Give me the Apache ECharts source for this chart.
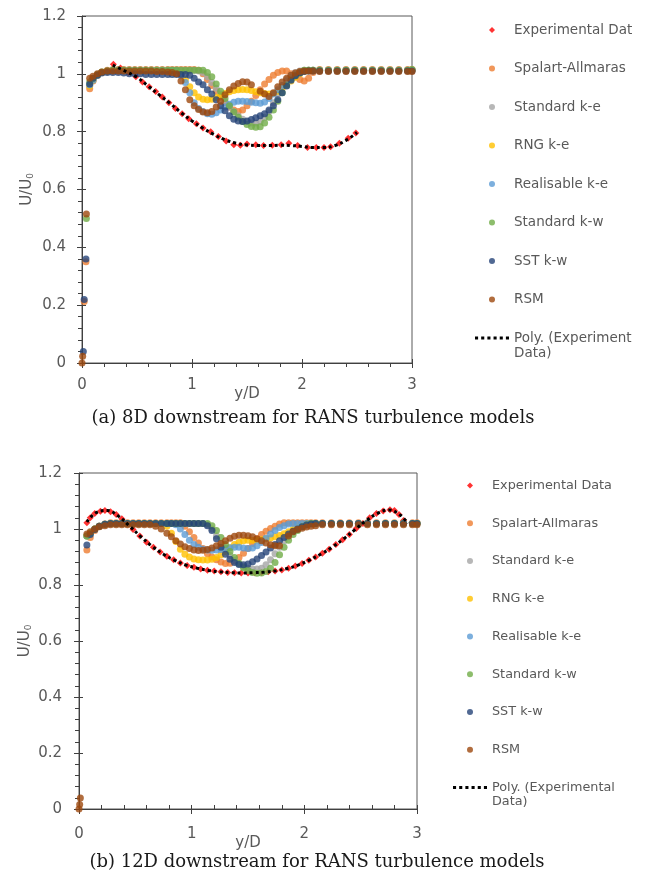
<!DOCTYPE html>
<html>
<head>
<meta charset="utf-8">
<title>Wake velocity profiles – RANS turbulence models</title>
<script src="https://cdn.jsdelivr.net/npm/echarts@6/dist/echarts.min.js"></script>
<style>
  html, body { margin: 0; padding: 0; background: #ffffff; }
  #chart { width: 657px; height: 876px; }
</style>
</head>
<body>
<div id="chart"></div>
<script>
// ---------------------------------------------------------------
// Sampling positions y/D shared by the CFD profiles
// ---------------------------------------------------------------
const Y_D = [0, 0.006, 0.012, 0.02, 0.036, 0.04, 0.07,
  0.1, 0.14, 0.18, 0.23, 0.28, 0.33, 0.38, 0.43, 0.48, 0.53, 0.58, 0.63, 0.68, 0.73, 0.78,
  0.82, 0.86, 0.9, 0.94, 0.98, 1.02, 1.06, 1.1, 1.14, 1.18, 1.22, 1.26, 1.3, 1.34, 1.38, 1.42,
  1.46, 1.5, 1.54, 1.58, 1.62, 1.66, 1.7, 1.74, 1.78, 1.82, 1.86, 1.9, 1.94, 1.98, 2.02, 2.06, 2.1,
  2.16, 2.24, 2.32, 2.4, 2.48, 2.56, 2.64, 2.72, 2.8, 2.88, 2.96, 3.0];

// ---------------------------------------------------------------
// (a) 8D downstream
// ---------------------------------------------------------------
const EXP_8D_X = [0.285, 0.35, 0.42, 0.49, 0.55, 0.61, 0.67, 0.73, 0.79, 0.85, 0.91, 0.97, 1.04,
  1.1, 1.17, 1.24, 1.31, 1.38, 1.44, 1.5, 1.58, 1.65, 1.73, 1.81, 1.88, 1.96, 2.05, 2.13, 2.2,
  2.26, 2.34, 2.42, 2.49];
const EXP_8D_U = [1.033, 1.02, 1.005, 0.99, 0.972, 0.955, 0.939, 0.92, 0.9, 0.88, 0.862, 0.845, 0.827,
  0.813, 0.8, 0.783, 0.768, 0.755, 0.753, 0.757, 0.755, 0.752, 0.753, 0.755, 0.76, 0.752, 0.745, 0.745, 0.745,
  0.748, 0.76, 0.777, 0.795];
const POLY_8D_X = [0.28, 0.4, 0.5, 0.6, 0.7, 0.8, 0.9, 1.0, 1.1, 1.2, 1.3, 1.4, 1.5, 1.6, 1.7,
  1.8, 1.9, 2.0, 2.1, 2.2, 2.3, 2.4, 2.5];
const POLY_8D_U = [1.03, 1.008, 0.988, 0.958, 0.928, 0.898, 0.866, 0.837, 0.812, 0.79, 0.772, 0.76, 0.754,
  0.752, 0.752, 0.753, 0.752, 0.749, 0.745, 0.745, 0.752, 0.77, 0.797];

const SA_8D = [null, null, null, 0.213, 0.35, null, 0.948,
  0.975, 0.995, 1.005, 1.012, 1.015, 1.015, 1.015, 1.015, 1.015, 1.015, 1.015, 1.015, 1.015, 1.015, 1.015,
  1.015, 1.015, 1.015, 1.015, 1.015, 1.015, 1.012, 1.0, 0.98, 0.96, 0.94, 0.92, 0.9, 0.885, 0.875, 0.87,
  0.875, 0.89, 0.905, 0.925, 0.945, 0.965, 0.98, 0.995, 1.005, 1.01, 1.01, 1.0, 0.99, 0.98, 0.975, 0.985, 1.005,
  1.015, 1.015, 1.015, 1.015, 1.015, 1.015, 1.015, 1.015, 1.015, 1.015, 1.015, 1.015];
const SKE_8D = [null, null, null, null, null, null, 0.96,
  0.98, 0.996, 1.005, 1.01, 1.012, 1.012, 1.012, 1.012, 1.012, 1.012, 1.012, 1.012, 1.012, 1.012, 1.012,
  1.012, 1.012, 1.012, 1.012, 1.012, 1.012, 1.01, 1.005, 0.99, 0.97, 0.95, 0.93, 0.905, 0.885, 0.87, 0.855,
  0.843, 0.835, 0.83, 0.83, 0.836, 0.85, 0.87, 0.9, 0.93, 0.96, 0.98, 0.995, 1.005, 1.01, 1.012, 1.012, 1.012,
  1.012, 1.012, 1.012, 1.012, 1.012, 1.012, 1.012, 1.012, 1.012, 1.012, 1.012, 1.012];
const RNG_8D = [null, null, null, null, null, null, 0.958,
  0.978, 0.995, 1.005, 1.01, 1.012, 1.012, 1.012, 1.012, 1.012, 1.012, 1.012, 1.012, 1.012, 1.012, 1.012,
  1.012, 1.012, 1.0, 0.98, 0.955, 0.935, 0.92, 0.912, 0.91, 0.912, 0.918, 0.925, 0.932, 0.938, 0.942, 0.945,
  0.946, 0.945, 0.942, 0.938, 0.935, 0.932, 0.93, 0.932, 0.94, 0.95, 0.962, 0.975, 0.988, 1.0, 1.008, 1.012, 1.012,
  1.012, 1.012, 1.012, 1.012, 1.012, 1.012, 1.012, 1.012, 1.012, 1.012, 1.012, 1.012];
const RKE_8D = [null, null, null, null, null, null, 0.962,
  0.978, 0.995, 1.005, 1.01, 1.012, 1.012, 1.012, 1.012, 1.012, 1.012, 1.012, 1.012, 1.012, 1.012, 1.012,
  1.012, 1.012, 0.995, 0.97, 0.935, 0.9, 0.88, 0.87, 0.862, 0.86, 0.865, 0.875, 0.885, 0.895, 0.902, 0.905,
  0.905, 0.904, 0.902, 0.9, 0.898, 0.903, 0.915, 0.93, 0.945, 0.96, 0.975, 0.988, 0.998, 1.005, 1.01, 1.012, 1.012,
  1.012, 1.012, 1.012, 1.012, 1.012, 1.012, 1.012, 1.012, 1.012, 1.012, 1.012, 1.012];
const SKW_8D = [null, null, null, null, null, 0.50, 0.972,
  0.985, 0.998, 1.006, 1.01, 1.012, 1.012, 1.012, 1.012, 1.012, 1.012, 1.012, 1.012, 1.012, 1.012, 1.012,
  1.012, 1.012, 1.012, 1.012, 1.012, 1.012, 1.012, 1.012, 1.005, 0.99, 0.965, 0.94, 0.915, 0.89, 0.868, 0.85,
  0.835, 0.825, 0.818, 0.815, 0.817, 0.83, 0.85, 0.875, 0.905, 0.935, 0.96, 0.98, 0.995, 1.005, 1.012, 1.012, 1.012,
  1.012, 1.012, 1.012, 1.012, 1.012, 1.012, 1.012, 1.012, 1.012, 1.012, 1.012, 1.015];
const SST_8D = [null, null, 0.04, 0.22, 0.36, null, 0.965,
  0.985, 0.995, 1.003, 1.005, 1.005, 1.005, 1.003, 1.0, 1.0, 1.0, 0.998, 0.998, 0.998, 0.998, 0.998,
  0.998, 0.998, 0.998, 0.998, 0.995, 0.985, 0.972, 0.962, 0.945, 0.93, 0.91, 0.89, 0.872, 0.855, 0.843, 0.837,
  0.835, 0.837, 0.842, 0.848, 0.855, 0.862, 0.875, 0.89, 0.91, 0.935, 0.958, 0.978, 0.993, 1.003, 1.008, 1.01, 1.01,
  1.01, 1.01, 1.01, 1.01, 1.01, 1.01, 1.01, 1.01, 1.01, 1.01, 1.01, 1.01];
const RSM_8D = [0, 0.023, null, null, null, 0.515, 0.985,
  0.992, 1.0, 1.006, 1.01, 1.01, 1.01, 1.01, 1.01, 1.01, 1.01, 1.01, 1.01, 1.008, 1.008, 1.006,
  1.005, 1.0, 0.975, 0.945, 0.91, 0.89, 0.877, 0.868, 0.865, 0.87, 0.885, 0.905, 0.928, 0.945, 0.958, 0.967,
  0.973, 0.972, 0.962, null, 0.94, 0.93, 0.922, 0.935, 0.955, 0.972, 0.985, 0.995, 1.003, 1.008, 1.01, 1.01, 1.01,
  1.008, 1.008, 1.008, 1.008, 1.008, 1.008, 1.008, 1.008, 1.008, 1.008, 1.008, 1.008];

// ---------------------------------------------------------------
// (b) 12D downstream
// ---------------------------------------------------------------
const EXP_12D_X = [0.07, 0.1, 0.14, 0.19, 0.23, 0.28, 0.33, 0.38, 0.43, 0.48, 0.54, 0.6, 0.66, 0.72,
  0.78, 0.84, 0.9, 0.96, 1.02, 1.08, 1.14, 1.2, 1.26, 1.32, 1.38, 1.44, 1.5, 1.56, 1.62, 1.68, 1.74,
  1.8, 1.86, 1.92, 1.98, 2.04, 2.1, 2.16, 2.22, 2.28, 2.34, 2.4, 2.46, 2.52, 2.58, 2.64, 2.7, 2.76,
  2.8, 2.84, 2.88];
const EXP_12D_U = [1.022, 1.04, 1.055, 1.063, 1.066, 1.062, 1.052, 1.037, 1.018, 0.998, 0.975, 0.953, 0.935, 0.918,
  0.903, 0.89, 0.879, 0.87, 0.863, 0.857, 0.853, 0.85, 0.847, 0.845, 0.844, 0.843, 0.843, 0.844, 0.845, 0.847, 0.85,
  0.854, 0.86, 0.868, 0.877, 0.888, 0.9, 0.913, 0.928, 0.945, 0.962, 0.98, 1.002, 1.02, 1.04, 1.055, 1.064, 1.069,
  1.066, 1.052, 1.03];
const POLY_12D_X = [0.07, 0.15, 0.25, 0.35, 0.45, 0.55, 0.65, 0.75, 0.85, 0.95, 1.05, 1.15, 1.25, 1.35,
  1.45, 1.55, 1.65, 1.75, 1.85, 1.95, 2.05, 2.15, 2.25, 2.35, 2.45, 2.55, 2.65, 2.75, 2.85, 2.92];
const POLY_12D_U = [1.025, 1.058, 1.066, 1.046, 1.01, 0.972, 0.938, 0.91, 0.888, 0.871, 0.86, 0.852, 0.847, 0.844,
  0.843, 0.844, 0.846, 0.851, 0.859, 0.872, 0.89, 0.911, 0.936, 0.965, 0.998, 1.03, 1.056, 1.068, 1.05, 1.02];

const SA_12D = [null, null, null, null, null, null, 0.925,
  0.97, 0.995, 1.01, 1.018, 1.022, 1.022, 1.022, 1.022, 1.022, 1.022, 1.022, 1.022, 1.022, 1.022, 1.022,
  1.022, 1.022, 1.022, 1.01, 0.99, 0.97, 0.95, 0.93, 0.912, 0.9, 0.89, 0.882, 0.877, 0.878, 0.886, 0.898,
  0.913, 0.93, 0.948, 0.965, 0.98, 0.992, 1.002, 1.01, 1.018, 1.022, 1.022, 1.022, 1.022, 1.022, 1.022, 1.022, 1.022,
  1.022, 1.022, 1.022, 1.022, 1.022, 1.022, 1.022, 1.022, 1.022, 1.022, 1.022, 1.022];
const SKE_12D = [null, null, null, null, null, null, 0.975,
  0.985, 1.0, 1.01, 1.017, 1.02, 1.02, 1.02, 1.02, 1.02, 1.02, 1.02, 1.02, 1.02, 1.02, 1.02,
  1.02, 1.02, 1.02, 1.02, 1.02, 1.02, 1.02, 1.02, 1.015, 1.0, 0.975, 0.95, 0.925, 0.905, 0.888, 0.875,
  0.866, 0.86, 0.857, 0.857, 0.86, 0.872, 0.89, 0.912, 0.935, 0.958, 0.978, 0.995, 1.008, 1.015, 1.02, 1.02, 1.02,
  1.02, 1.02, 1.02, 1.02, 1.02, 1.02, 1.02, 1.02, 1.02, 1.02, 1.02, 1.02];
const RNG_12D = [null, null, null, null, null, null, 0.975,
  0.985, 1.0, 1.01, 1.017, 1.02, 1.02, 1.02, 1.02, 1.02, 1.02, 1.02, 1.02, 1.02, 1.02, 1.01,
  0.985, 0.955, 0.928, 0.91, 0.9, 0.893, 0.89, 0.889, 0.889, 0.892, 0.898, 0.908, 0.92, 0.933, 0.945, 0.953,
  0.958, 0.96, 0.96, 0.96, 0.962, 0.965, 0.968, 0.972, 0.977, 0.983, 0.99, 0.998, 1.007, 1.014, 1.018, 1.02, 1.02,
  1.02, 1.02, 1.02, 1.02, 1.02, 1.02, 1.02, 1.02, 1.02, 1.02, 1.02, 1.02];
const RKE_12D = [null, null, null, null, null, null, 0.975,
  0.985, 1.0, 1.01, 1.017, 1.02, 1.02, 1.02, 1.02, 1.02, 1.02, 1.02, 1.02, 1.02, 1.02, 1.02,
  1.02, 1.015, 1.0, 0.98, 0.96, 0.945, 0.935, 0.928, 0.925, 0.924, 0.925, 0.927, 0.93, 0.933, 0.935, 0.935,
  0.932, 0.93, 0.932, 0.94, 0.952, 0.967, 0.982, 0.995, 1.005, 1.012, 1.018, 1.02, 1.02, 1.02, 1.02, 1.02, 1.02,
  1.02, 1.02, 1.02, 1.02, 1.02, 1.02, 1.02, 1.02, 1.02, 1.02, 1.02, 1.02];
const SKW_12D = [null, null, null, null, null, null, 0.975,
  0.985, 1.0, 1.01, 1.017, 1.02, 1.02, 1.02, 1.02, 1.02, 1.02, 1.02, 1.02, 1.02, 1.02, 1.02,
  1.02, 1.02, 1.02, 1.02, 1.02, 1.02, 1.02, 1.02, 1.02, 1.012, 0.995, 0.97, 0.945, 0.92, 0.898, 0.878,
  0.862, 0.852, 0.845, 0.842, 0.843, 0.848, 0.86, 0.88, 0.908, 0.935, 0.96, 0.98, 0.995, 1.008, 1.015, 1.02, 1.02,
  1.02, 1.02, 1.02, 1.02, 1.02, 1.02, 1.02, 1.02, 1.02, 1.02, 1.02, 1.02];
const SST_12D = [null, null, null, null, null, null, 0.943,
  0.98, 0.998, 1.01, 1.017, 1.02, 1.02, 1.02, 1.02, 1.02, 1.02, 1.02, 1.02, 1.02, 1.02, 1.02,
  1.02, 1.02, 1.02, 1.02, 1.02, 1.02, 1.02, 1.02, 1.012, 0.995, 0.965, 0.935, 0.91, 0.892, 0.88, 0.873,
  0.872, 0.875, 0.883, 0.893, 0.905, 0.918, 0.932, 0.945, 0.958, 0.97, 0.982, 0.992, 1.0, 1.008, 1.014, 1.018, 1.02,
  1.02, 1.02, 1.02, 1.02, 1.02, 1.02, 1.02, 1.02, 1.02, 1.02, 1.02, 1.02];
const RSM_12D = [0, 0.016, 0.039, null, null, null, 0.982,
  0.99, 1.0, 1.008, 1.012, 1.015, 1.015, 1.015, 1.015, 1.015, 1.015, 1.015, 1.015, 1.01, 1.0, 0.985,
  0.972, 0.958, 0.946, 0.937, 0.93, 0.925, 0.923, 0.924, 0.927, 0.932, 0.94, 0.948, 0.958, 0.967, 0.974, 0.978,
  0.978, 0.976, 0.972, 0.965, 0.958, 0.95, 0.944, 0.94, 0.94, null, 0.975, 0.99, 0.998, 1.003, 1.007, 1.01, 1.012,
  1.015, 1.015, 1.015, 1.015, 1.015, 1.015, 1.015, 1.015, 1.015, 1.015, 1.015, 1.015];

// ---------------------------------------------------------------
// Series names / colours (legend order)
// ---------------------------------------------------------------
const EXP_NAME = 'Experimental Data';
const POLY_NAME = 'Poly. (Experimental Data)';
const MODELS = [
  { name: 'Spalart-Allmaras', color: '#ED7D31', d8: SA_8D,  d12: SA_12D },
  { name: 'Standard k-e',     color: '#A5A5A5', d8: SKE_8D, d12: SKE_12D },
  { name: 'RNG k-e',          color: '#FFC000', d8: RNG_8D, d12: RNG_12D },
  { name: 'Realisable k-e',   color: '#5B9BD5', d8: RKE_8D, d12: RKE_12D },
  { name: 'Standard k-w',     color: '#70AD47', d8: SKW_8D, d12: SKW_12D },
  { name: 'SST k-w',          color: '#264478', d8: SST_8D, d12: SST_12D },
  { name: 'RSM',              color: '#9E480E', d8: RSM_8D, d12: RSM_12D }
];

// ---------------------------------------------------------------
// Helpers
// ---------------------------------------------------------------
function pairs(xs, ys) {
  const out = [];
  for (let i = 0; i < xs.length; i++) {
    if (ys[i] !== null && ys[i] !== undefined) out.push([xs[i], ys[i]]);
  }
  return out;
}

const AXIS_COLOR = '#404040';
const TEXT_COLOR = '#595959';
const SANS = 'DejaVu Sans';
const SERIF = 'DejaVu Serif';

// legend glyphs: a square diamond and a row of dots for the trend line
const ICON_DIAMOND = 'path://M5,0L10,5L5,10L0,5Z';
const ICON_DOTS = 'path://M0,0h3v3h-3z M6,0h3v3h-3z M12,0h3v3h-3z M18,0h3v3h-3z M24,0h3v3h-3z M30,0h3v3h-3z';

// main axis (line, labels, minor ticks) + a twin that adds the other half of each major tick
function xAxesFor(grid, minorInside, labelMargin, nameGap) {
  return [{
    type: 'value', gridIndex: grid, min: 0, max: 3, interval: 1, position: 'bottom',
    name: 'y/D', nameLocation: 'middle', nameGap: nameGap, nameMoveOverlap: false,
    nameTextStyle: { color: TEXT_COLOR, fontSize: 15, fontFamily: SANS },
    axisLine: { show: true, onZero: false, lineStyle: { color: AXIS_COLOR, width: 1 } },
    axisTick: { show: true, inside: minorInside, length: minorInside ? 4 : 5, lineStyle: { color: AXIS_COLOR } },
    minorTick: { show: true, splitNumber: 5, length: 4, lineStyle: { color: AXIS_COLOR } },
    axisLabel: { color: TEXT_COLOR, fontSize: 15, fontFamily: SANS, margin: labelMargin },
    splitLine: { show: false }, minorSplitLine: { show: false }
  }, {
    type: 'value', gridIndex: grid, min: 0, max: 3, interval: 1, position: 'bottom',
    axisLine: { show: false },
    axisTick: { show: true, inside: !minorInside, length: minorInside ? 5 : 4, lineStyle: { color: AXIS_COLOR } },
    axisLabel: { show: false }, splitLine: { show: false }
  }];
}
function yAxesFor(grid, labelMargin, nameGap) {
  return [{
    type: 'value', gridIndex: grid, min: 0, max: 1.2, interval: 0.2, position: 'left',
    name: '{a|U/U}{s|0}', nameLocation: 'middle', nameGap: nameGap, nameMoveOverlap: false,
    nameTextStyle: {
      color: TEXT_COLOR,
      rich: {
        a: { fontSize: 15, fontFamily: SANS, color: TEXT_COLOR },
        s: { fontSize: 9, fontFamily: SANS, color: TEXT_COLOR, verticalAlign: 'bottom', padding: [6, 0, 0, 0] }
      }
    },
    axisLine: { show: true, onZero: false, lineStyle: { color: AXIS_COLOR, width: 1 } },
    axisTick: { show: true, inside: false, length: 5, lineStyle: { color: AXIS_COLOR } },
    minorTick: { show: true, splitNumber: 5, length: 4, lineStyle: { color: AXIS_COLOR } },
    axisLabel: { color: TEXT_COLOR, fontSize: 15, fontFamily: SANS, margin: labelMargin },
    splitLine: { show: false }, minorSplitLine: { show: false }
  }, {
    type: 'value', gridIndex: grid, min: 0, max: 1.2, interval: 0.2, position: 'left',
    axisLine: { show: false },
    axisTick: { show: true, inside: true, length: 4, lineStyle: { color: AXIS_COLOR } },
    axisLabel: { show: false }, splitLine: { show: false }
  }];
}

function seriesFor(axisIdx, expX, expU, polyX, polyU, key) {
  const list = [{
    type: 'scatter', name: EXP_NAME, xAxisIndex: axisIdx, yAxisIndex: axisIdx,
    symbol: 'diamond', symbolSize: 7, itemStyle: { color: '#FF0000' },
    data: pairs(expX, expU)
  }];
  MODELS.forEach(m => {
    list.push({
      type: 'scatter', name: m.name, xAxisIndex: axisIdx, yAxisIndex: axisIdx,
      symbol: 'circle', symbolSize: 7, itemStyle: { color: m.color },
      data: pairs(Y_D, m[key])
    });
  });
  list.push({
    type: 'line', name: POLY_NAME, xAxisIndex: axisIdx, yAxisIndex: axisIdx,
    symbol: 'none', showSymbol: false, smooth: 0.4,
    itemStyle: { color: '#000000' },
    lineStyle: { color: '#000000', width: 3, type: 'dotted' },
    data: pairs(polyX, polyU)
  });
  return list;
}

function legendFor(left, top, gap, fontSize, textWidth) {
  const data = [{ name: EXP_NAME, icon: ICON_DIAMOND, itemStyle: { color: '#FF0000' } }]
    .concat(MODELS.map(m => ({ name: m.name, icon: 'circle', itemStyle: { color: m.color } })))
    .concat([{ name: POLY_NAME, icon: ICON_DOTS, itemStyle: { color: '#000000' } }]);
  return {
    orient: 'vertical', left: left, top: top, itemGap: gap, padding: 0,
    itemWidth: 34, itemHeight: 6, symbolKeepAspect: true, selectedMode: false,
    data: data,
    formatter: n => (n === POLY_NAME ? 'Poly. (Experimental' : n),
    textStyle: {
      color: TEXT_COLOR, fontSize: fontSize, fontFamily: SANS,
      width: textWidth, overflow: 'truncate', ellipsis: ''
    }
  };
}

function legendTail(x, y, fontSize) {
  return { type: 'text', x: x, y: y, style: { text: 'Data)', fontFamily: SANS, fontSize: fontSize,
    fill: TEXT_COLOR, align: 'left', verticalAlign: 'middle' } };
}

const xa = xAxesFor(0, false, 15, 24).concat(xAxesFor(1, true, 18, 27));
const ya = yAxesFor(0, 16, 47).concat(yAxesFor(1, 17, 46));

const option = {
  animation: false,
  backgroundColor: '#ffffff',
  grid: [
    { left: 82, top: 16, width: 330, height: 347, show: true, borderColor: '#595959', borderWidth: 1, containLabel: false },
    { left: 79, top: 473, width: 338, height: 336, show: true, borderColor: '#595959', borderWidth: 1, containLabel: false }
  ],
  xAxis: xa,
  yAxis: ya,
  legend: [legendFor(475, 23, 24.5, 13.5, 126), legendFor(453, 479, 24.75, 12.8, 150)],
  series: seriesFor(0, EXP_8D_X, EXP_8D_U, POLY_8D_X, POLY_8D_U, 'd8')
    .concat(seriesFor(2, EXP_12D_X, EXP_12D_U, POLY_12D_X, POLY_12D_U, 'd12')),
  graphic: [
    legendTail(514, 353, 13.5),
    legendTail(492, 802, 12.8),
    { type: 'text', x: 313, y: 418, style: { text: '(a) 8D downstream for RANS turbulence models',
      fontFamily: SERIF, fontSize: 18, fill: '#1a1a1a', align: 'center', verticalAlign: 'middle' } },
    { type: 'text', x: 317, y: 862, style: { text: '(b) 12D downstream for RANS turbulence models',
      fontFamily: SERIF, fontSize: 18, fill: '#1a1a1a', align: 'center', verticalAlign: 'middle' } }
  ]
};

const chart = echarts.init(document.getElementById('chart'), null, { renderer: 'canvas' });
chart.setOption(option);
</script>
</body>
</html>
